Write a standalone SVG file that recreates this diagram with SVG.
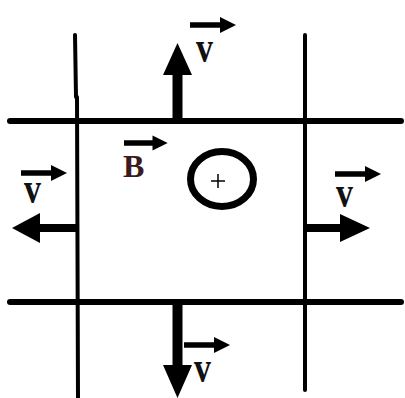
<svg xmlns="http://www.w3.org/2000/svg" width="405" height="398" viewBox="0 0 405 398">
<defs>
<style>
.ln{stroke:#000;stroke-linecap:round;fill:none}
.fat{fill:#000}
.lbl{font-family:"Liberation Serif",serif;font-weight:bold;fill:#111}
.vec{fill:#000}
</style>
<path id="vecarrow" d="M0,-2.8 H30 V-8 L46,0 L30,8 V2.8 H0 Z"/>
</defs>
<rect width="405" height="398" fill="#fff"/>
<g id="rails">
<line class="ln" x1="10" y1="121" x2="401" y2="121" stroke-width="6"/>
<line class="ln" x1="10" y1="302" x2="401" y2="302" stroke-width="6"/>
<line class="ln" x1="75" y1="35" x2="76" y2="97" stroke-width="4"/>
<line class="ln" x1="77" y1="97" x2="78" y2="398" stroke-width="4"/>
<line class="ln" x1="305" y1="35" x2="305" y2="390" stroke-width="4"/>
</g>
<g id="field">
<use href="#vecarrow" class="vec" transform="translate(124,143) scale(0.95)"/>
<text class="lbl" x="123" y="177" font-size="32" style="fill:#3b1c1c">B</text>
</g>
<g id="charge">
<ellipse cx="222" cy="179" rx="31.5" ry="27.5" fill="none" stroke="#000" stroke-width="7"/>
<line x1="211" y1="181" x2="225" y2="181" stroke="#000" stroke-width="1.5"/>
<line x1="218" y1="174" x2="218" y2="188" stroke="#000" stroke-width="1.5"/>
</g>
<g id="connectors">
<path class="fat" d="M172.5,121 V75 H163 L177.5,43 L192,75 H182.5 V121 Z"/>
<path class="fat" d="M172.5,302 V365 H163 L177.5,398 L192,365 H182.5 V302 Z"/>
<path class="fat" d="M77,224 H40 V213 L12,228 L40,243 V232 H77 Z"/>
<path class="fat" d="M305,224 H340 V214 L370,228 L340,242 V232 H305 Z"/>
</g>
<g id="v-top">
<use href="#vecarrow" class="vec" transform="translate(190,25)"/>
<text class="lbl" transform="translate(196,62) scale(1,1.3)" font-size="34">v</text>
</g>
<g id="v-left">
<use href="#vecarrow" class="vec" transform="translate(21,173)"/>
<text class="lbl" transform="translate(24,203) scale(1,1.3)" font-size="34">v</text>
</g>
<g id="v-right">
<use href="#vecarrow" class="vec" transform="translate(335,174)"/>
<text class="lbl" transform="translate(336,207) scale(1,1.3)" font-size="34">v</text>
</g>
<g id="v-bottom">
<use href="#vecarrow" class="vec" transform="translate(184,345)"/>
<text class="lbl" transform="translate(194,382) scale(1,1.3)" font-size="34">v</text>
</g>
</svg>
